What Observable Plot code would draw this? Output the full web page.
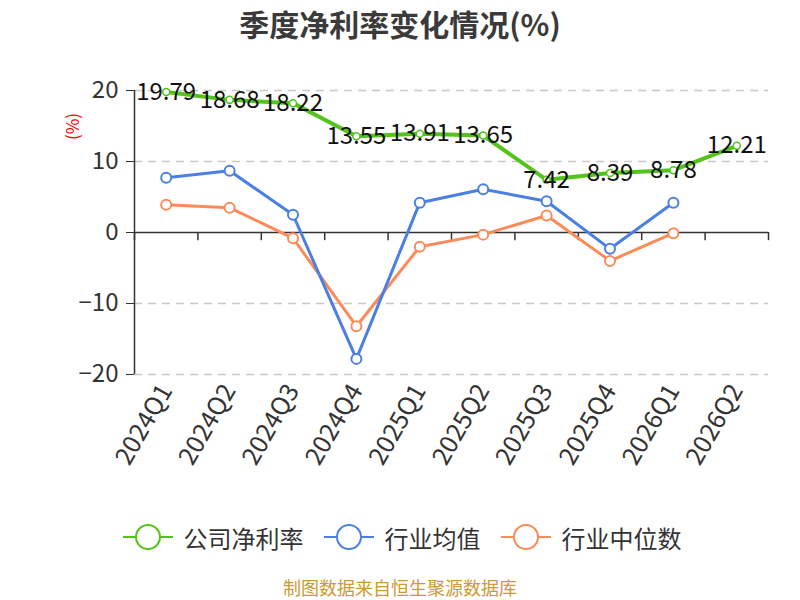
<!DOCTYPE html>
<html>
<head>
<meta charset="utf-8">
<script src="https://cdn.jsdelivr.net/npm/d3@7"></script>
<script src="https://cdn.jsdelivr.net/npm/@observablehq/plot@0.6"></script>
<style>
  html, body { margin: 0; padding: 0; background: #fff; }
  body { width: 800px; height: 600px; position: relative; overflow: hidden; font-family: "Noto Sans CJK SC", "Noto Sans", sans-serif; }
  #title { position: absolute; left: 0; top: 0; width: 800px; height: 46px; line-height: 46px; text-align: center; font-size: 30px; font-weight: bold; color: #3a3a3a; }
  #chart { position: absolute; left: 0; top: 46px; }
  #legend { position: absolute; left: 0; top: 517px; width: 800px; height: 40px; display: flex; justify-content: center; align-items: center; padding-left: 4px; box-sizing: border-box; }
  .item { display: flex; align-items: center; margin: 0 10px; }
  .item svg { margin-right: 11px; }
  .item span { font-size: 24px; color: #333; }
  #caption { position: absolute; left: 0; top: 575px; width: 800px; height: 24px; text-align: center; font-size: 18px; line-height: 24px; color: #cc9933; }
</style>
</head>
<body>
<div id="title">季度净利率变化情况(%)</div>
<div id="chart"></div>
<div id="legend"></div>
<div id="caption">制图数据来自恒生聚源数据库</div>
<script>
const categories = ["2024Q1","2024Q2","2024Q3","2024Q4","2025Q1","2025Q2","2025Q3","2025Q4","2026Q1","2026Q2"];
const companyValues = [19.79, 18.68, 18.22, 13.55, 13.91, 13.65, 7.42, 8.39, 8.78, 12.21];
const industryAvg = [7.7, 8.7, 2.5, -17.8, 4.2, 6.1, 4.4, -2.3, 4.2];
const industryMedian = [3.9, 3.5, -0.8, -13.2, -2.0, -0.3, 2.4, -4.0, -0.1];
const yTicks = [-20, -10, 0, 10, 20];
const seriesNames = ["公司净利率", "行业均值", "行业中位数"];
const seriesColors = ["#52c41a", "#4b7fe3", "#fc8b5a"];

const toRows = arr => arr.map((v, i) => ({i, v})).filter(d => d.v != null);
const company = toRows(companyValues);
const avg = toRows(industryAvg);
const med = toRows(industryMedian);
const idx = d3.range(categories.length);
const bounds = d3.range(categories.length + 1).map(i => i - 0.5);

const plot = Plot.plot({
  width: 800,
  height: 440,
  marginLeft: 134,
  marginRight: 32,
  marginTop: 44,
  marginBottom: 112,
  style: {fontFamily: "'Noto Sans CJK SC', 'Noto Sans', sans-serif", fontSize: "22px", background: "transparent"},
  x: {type: "linear", domain: [-0.5, categories.length - 0.5]},
  y: {domain: [-20, 20]},
  marks: [
    Plot.gridY(yTicks.filter(t => t !== 0), {stroke: "#c8c8c8", strokeOpacity: 1, strokeWidth: 1.5, strokeDasharray: "8,6"}),
    Plot.ruleX([-0.5], {y1: -20, y2: 20, stroke: "#333", strokeWidth: 1.5}),
    Plot.ruleY([0], {x1: -0.5, x2: categories.length - 0.5, stroke: "#333", strokeWidth: 1.5}),
    Plot.ruleX(bounds, {x: d => d, y1: 0, y2: -1.15, stroke: "#333", strokeWidth: 1.5}),
    Plot.axisY({ticks: yTicks, tickSize: 8, tickPadding: 8, fontSize: 24, color: "#333", label: null}),
    Plot.axisX({ticks: idx, tickFormat: i => categories[i], tickRotate: -60, tickSize: 0, tickPadding: 12, fontSize: 25, color: "#333", label: null}),
    Plot.text(["(%)"], {text: d => d, frameAnchor: "top-left", dx: -61, dy: 36, rotate: -90, textAnchor: "middle", lineAnchor: "middle", fill: "red", fontSize: 17}),
    Plot.line(med, {x: "i", y: "v", stroke: seriesColors[2], strokeWidth: 3}),
    Plot.line(avg, {x: "i", y: "v", stroke: seriesColors[1], strokeWidth: 3}),
    Plot.line(company, {x: "i", y: "v", stroke: seriesColors[0], strokeWidth: 4}),
    Plot.dot(med, {x: "i", y: "v", r: 5, fill: "white", stroke: seriesColors[2], strokeWidth: 2}),
    Plot.dot(avg, {x: "i", y: "v", r: 5, fill: "white", stroke: seriesColors[1], strokeWidth: 2}),
    Plot.dot(company, {x: "i", y: "v", r: 3.5, fill: "white", stroke: seriesColors[0], strokeWidth: 1.5}),
    Plot.text(company, {x: "i", y: "v", text: d => d.v.toFixed(2), fill: "#111", fontSize: 24, textAnchor: "middle", lineAnchor: "middle"})
  ]
});
document.getElementById("chart").appendChild(plot);

const legend = document.getElementById("legend");
seriesNames.forEach((name, k) => {
  const item = document.createElement("div");
  item.className = "item";
  item.innerHTML = `<svg width="50" height="28"><line x1="0" y1="14" x2="50" y2="14" stroke="${seriesColors[k]}" stroke-width="2"/><circle cx="25" cy="14" r="12" fill="white" stroke="${seriesColors[k]}" stroke-width="2"/></svg><span>${name}</span>`;
  legend.appendChild(item);
});
</script>
</body>
</html>
